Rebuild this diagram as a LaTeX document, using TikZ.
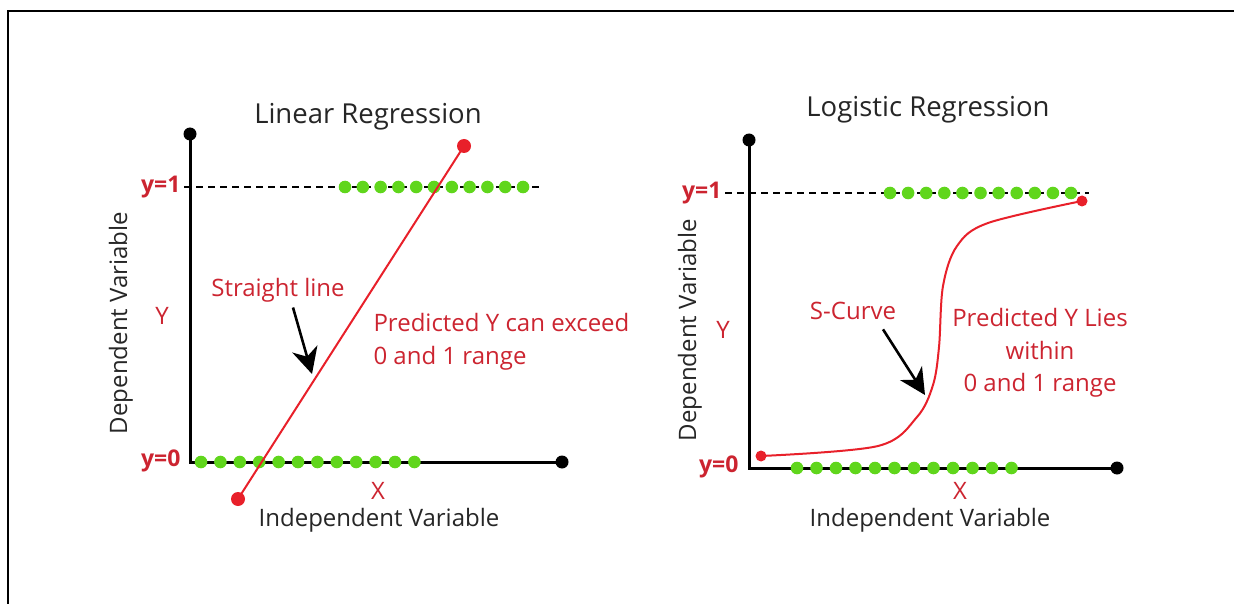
\documentclass[tikz,border=0pt]{standalone}
\usepackage{fontspec}
\setmainfont{Open Sans}
\usetikzlibrary{arrows.meta}
\definecolor{dotgreen}{RGB}{96,214,28}
\definecolor{fitred}{RGB}{232,32,42}
\definecolor{txtred}{RGB}{204,36,48}
\tikzset{
  axis/.style={line width=3pt,line cap=round,line join=miter},
  level/.style={line width=1.8pt,dash pattern=on 7pt off 5pt},
  pointer/.style={-{Stealth[length=26pt,width=26pt,inset=8pt]},line width=2.6pt},
  enddot/.style={circle,fill=black,inner sep=0pt,minimum size=13pt},
  reddot/.style={circle,fill=fitred,inner sep=0pt,minimum size=#1},
  heading/.style={font=\fontsize{27.5}{32}\selectfont,text=black!85},
  caption/.style={font=\fontsize{24}{28}\selectfont,text=black!85},
  redtext/.style={font=\fontsize{24}{32.5}\selectfont,text=txtred},
  tick/.style={font=\fontsize{23}{26}\selectfont\bfseries,text=txtred,anchor=east},
}

\begin{document}
\begin{tikzpicture}[x=1pt,y=-1pt]
  \useasboundingbox (0,0) rectangle (1234,604);
  \draw[line width=2.4pt] (8,604) -- (8,11) -- (1234,11);
  %
  % linear regression
  \node[heading] (lintitle) at (368,117) {Linear Regression};
  \node[enddot] (ytop1) at (190,134) {};
  \node[enddot] (xend1) at (562,462) {};
  \coordinate (o1) at (190,462);
  \draw[axis] (ytop1.center) -- (o1) -- (xend1.center);
  \node[tick] (one1) at (184,187) {y=1};
  \node[tick] (zero1) at (184,461) {y=0};
  \coordinate (dash1) at (543,187);
  \draw[level] (one1.east) -- (dash1);
  \foreach \i in {0,...,10} \fill[dotgreen] (345+17.8*\i,187) circle (6.3);
  \foreach \i in {0,...,11} \fill[dotgreen] (201+19.4*\i,462) circle (6.3);
  \node[reddot=14pt] (lo1) at (238,499) {};
  \node[reddot=14pt] (hi1) at (464,146) {};
  \draw[fitred,line width=2pt] (lo1.center) -- (hi1.center);
  \node[redtext] (ylab1) at (162,316) {Y};
  \node[redtext] (xlab1) at (378,491) {X};
  \node[caption,rotate=90] (dep1) at (121,323) {Dependent Variable};
  \node[caption] (ind1) at (379,520) {Independent Variable};
  \node[redtext] (straight) at (278,290) {Straight line};
  \coordinate (lintip) at (312,374);
  \draw[pointer] ([xshift=15pt,yshift=-2pt]straight.south) -- (lintip);
  \node[redtext,anchor=west,align=left] (exceed) at (370,342) {Predicted Y can exceed\\0 and 1 range};
  %
  % logistic regression
  \node[heading] (logtitle) at (928,110) {Logistic Regression};
  \node[enddot] (ytop2) at (749,140) {};
  \node[enddot] (xend2) at (1117,468) {};
  \coordinate (o2) at (749,468);
  \draw[axis] (ytop2.center) -- (o2) -- (xend2.center);
  \node[tick] (one2) at (725,193) {y=1};
  \node[tick] (zero2) at (742,467) {y=0};
  \coordinate (dash2) at (1089,193);
  \draw[level] (one2.east) -- (dash2);
  \foreach \i in {0,...,10} \fill[dotgreen] (890+18.1*\i,193) circle (6.3);
  \foreach \i in {0,...,11} \fill[dotgreen] (797+19.5*\i,468) circle (6.3);
  \node[reddot=11pt] (lo2) at (761,456) {};
  \node[reddot=11pt] (hi2) at (1082,201) {};
  \draw[fitred,line width=2pt] plot[smooth,tension=0.55] coordinates
    {(761,456) (878,446) (917,417) (933,385) (939,347) (943,286) (957,246) (988,223) (1082,201)};
  \node[redtext] (ylab2) at (723,330) {Y};
  \node[redtext] (xlab2) at (960,491) {X};
  \node[caption,rotate=90] (dep2) at (690,330) {Dependent Variable};
  \node[caption] (ind2) at (930,520) {Independent Variable};
  \node[redtext] (scurve) at (853,311) {S-Curve};
  \coordinate (logtip) at (925,395);
  \draw[pointer] ([xshift=30pt,yshift=-6pt]scurve.south) -- (logtip);
  \node[redtext,align=center] (lies) at (1040,353) {Predicted Y Lies\\within\\0 and 1 range};
\end{tikzpicture}
\end{document}
